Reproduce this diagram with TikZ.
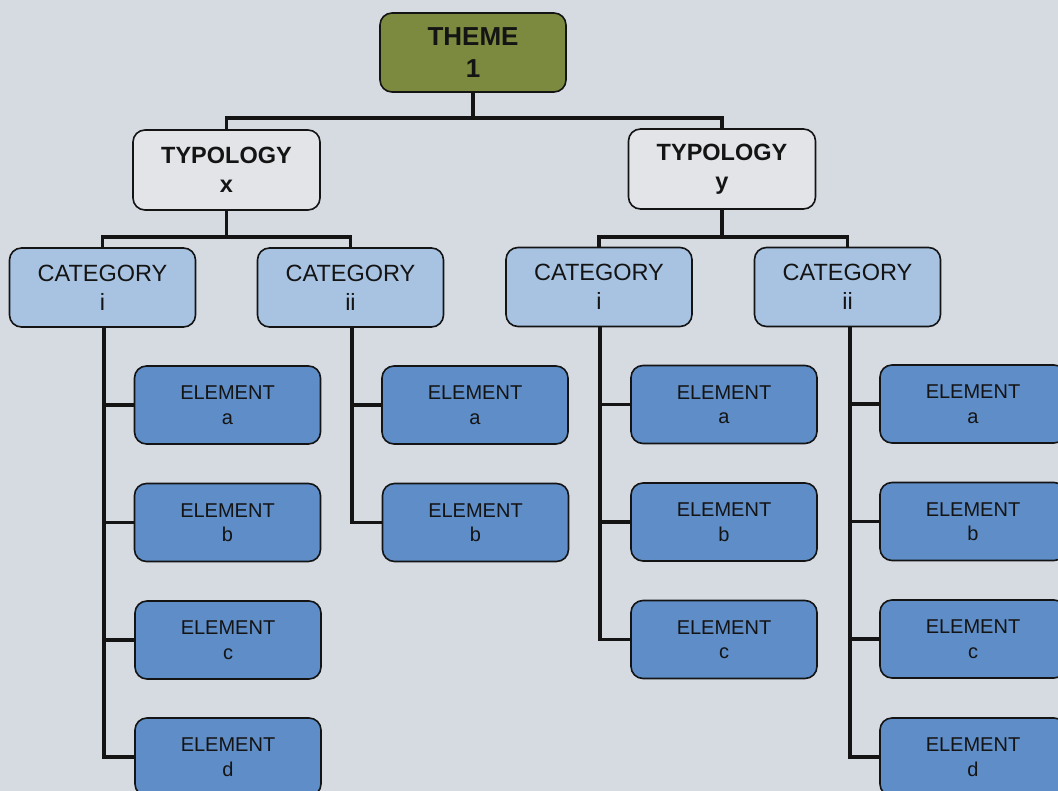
\documentclass[tikz,border=0pt]{standalone}
\usepackage{fontspec}
\setmainfont{Liberation Sans}
\usetikzlibrary{calc}

\definecolor{bgcol}{HTML}{D6DBE1}
\definecolor{themecol}{HTML}{7B8A3E}
\definecolor{typocol}{HTML}{E2E4E8}
\definecolor{catcol}{HTML}{A8C3E1}
\definecolor{elemcol}{HTML}{5E8DC7}
\definecolor{inkcol}{HTML}{141414}

\tikzset{
  box/.style={draw=inkcol, line width=1.6pt, rounded corners=12pt,
    inner sep=0pt, align=center, text=inkcol},
  themebox/.style={box, fill=themecol, minimum width=186pt, minimum height=79pt,
    font=\fontsize{26}{32}\selectfont\bfseries},
  typobox/.style={box, fill=typocol, minimum width=187pt, minimum height=80pt,
    font=\fontsize{23.5}{29}\selectfont\bfseries},
  catbox/.style={box, fill=catcol, minimum width=186pt, minimum height=79pt,
    font=\fontsize{23.5}{29}\selectfont},
  elembox/.style={box, fill=elemcol, minimum width=186pt, minimum height=78pt,
    font=\fontsize{20}{24.5}\selectfont},
  link/.style={draw=inkcol, line width=3.6pt, line join=miter}
}

\begin{document}
\begin{tikzpicture}[x=1pt, y=-1pt]
  \useasboundingbox (0,0) rectangle (1058,791);
  \clip (0,0) rectangle (1058,791);
  \fill[bgcol] (0,0) rectangle (1058,791);

  % top level
  \node[themebox] (theme) at (473,52.5) {THEME\\1};

  % typologies
  \node[typobox] (tx) at (226.5,170) {TYPOLOGY\\x};
  \node[typobox] (ty) at (722,169) {TYPOLOGY\\y};

  % categories
  \node[catbox] (cxi)  at (102.5,287.5) {CATEGORY\\i};
  \node[catbox] (cxii) at (350.5,287.5) {CATEGORY\\ii};
  \node[catbox] (cyi)  at (599,287)   {CATEGORY\\i};
  \node[catbox] (cyii) at (847.5,287) {CATEGORY\\ii};

  % elements under typology x
  \node[elembox] (exia) at (227.5,405) {ELEMENT\\a};
  \node[elembox] (exib) at (227.5,522.5) {ELEMENT\\b};
  \node[elembox] (exic) at (228,640) {ELEMENT\\c};
  \node[elembox] (exid) at (228,757) {ELEMENT\\d};
  \node[elembox] (exiia) at (475,405) {ELEMENT\\a};
  \node[elembox] (exiib) at (475.5,522.5) {ELEMENT\\b};

  % elements under typology y
  \node[elembox] (eyia) at (724,404.5) {ELEMENT\\a};
  \node[elembox] (eyib) at (724,522) {ELEMENT\\b};
  \node[elembox] (eyic) at (724,639.5) {ELEMENT\\c};
  \node[elembox] (eyiia) at (973,404) {ELEMENT\\a};
  \node[elembox] (eyiib) at (973,521.5) {ELEMENT\\b};
  \node[elembox] (eyiic) at (973,639) {ELEMENT\\c};
  \node[elembox] (eyiid) at (973,757) {ELEMENT\\d};

  % theme to typologies
  \draw[link] (theme.south) -- ++(0,25) -| (tx.north);
  \draw[link] (theme.south) ++(0,25) -| (ty.north);

  % typologies to categories
  \draw[link] (tx.south) -- ++(0,26) -| (cxi.north);
  \draw[link] (tx.south) ++(0,26) -| (cxii.north);
  \draw[link] (ty.south) -- ++(0,27) -| (cyi.north);
  \draw[link] (ty.south) ++(0,27) -| (cyii.north);

  % categories to elements
  \foreach \e in {exia,exib,exic,exid}
    \draw[link] ($(cxi.south)+(1.5,0)$) |- (\e.west);
  \foreach \e in {exiia,exiib}
    \draw[link] ($(cxii.south)+(1.5,0)$) |- (\e.west);
  \foreach \e in {eyia,eyib,eyic}
    \draw[link] ($(cyi.south)+(1,0)$) |- (\e.west);
  \foreach \e in {eyiia,eyiib,eyiic,eyiid}
    \draw[link] ($(cyii.south)+(2.5,0)$) |- (\e.west);
\end{tikzpicture}
\end{document}
